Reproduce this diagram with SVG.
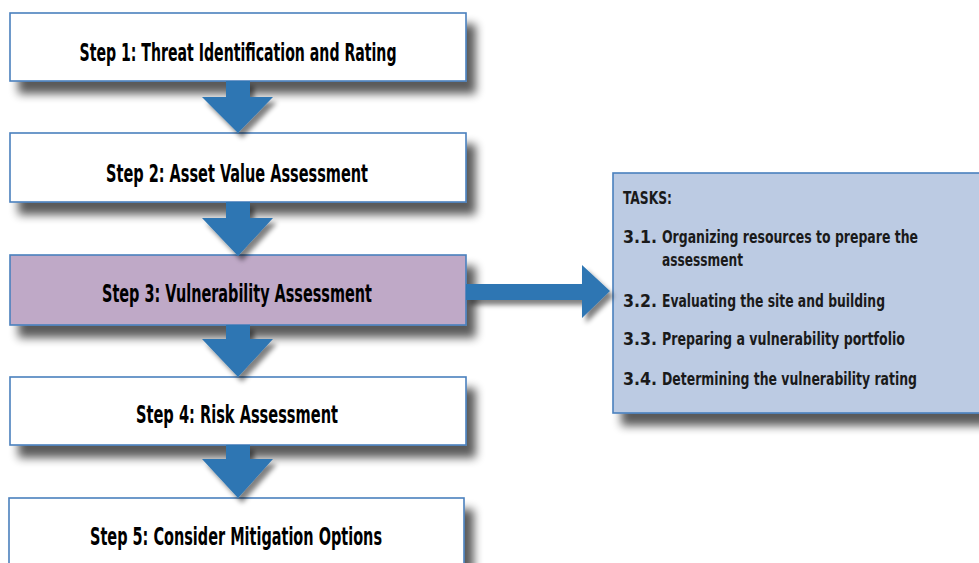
<svg xmlns="http://www.w3.org/2000/svg" width="979" height="563" viewBox="0 0 979 563">
<defs>
<filter id="sh" x="-20%" y="-30%" width="150%" height="190%">
<feGaussianBlur in="SourceAlpha" stdDeviation="5"/>
<feOffset dx="9" dy="12" result="b"/>
<feComponentTransfer in="b" result="c"><feFuncA type="linear" slope="0.65"/></feComponentTransfer>
<feMerge><feMergeNode in="c"/><feMergeNode in="SourceGraphic"/></feMerge>
</filter>
<filter id="ash" x="-30%" y="-30%" width="170%" height="170%">
<feGaussianBlur in="SourceAlpha" stdDeviation="2.5"/>
<feOffset dx="4" dy="5" result="b"/>
<feComponentTransfer in="b" result="c"><feFuncA type="linear" slope="0.5"/></feComponentTransfer>
<feMerge><feMergeNode in="c"/><feMergeNode in="SourceGraphic"/></feMerge>
</filter>
</defs>
<style>
.box{fill:#ffffff;stroke:#4a80bd;stroke-width:1.6;filter:url(#sh)}
.hl{fill:#bfa9c7}
.task{fill:#bccbe3;stroke:#4a80bd;stroke-width:1.6;filter:url(#sh)}
.lbl{font-family:"Liberation Sans Narrow","DejaVu Sans Condensed","Liberation Sans",sans-serif;font-stretch:condensed;font-weight:bold;font-size:24px;fill:#000;text-anchor:middle}
.t{font-family:"Liberation Sans Narrow","DejaVu Sans Condensed","Liberation Sans",sans-serif;font-stretch:condensed;font-weight:bold;font-size:17px;fill:#1a1a1a}
.arr{fill:#2f76b3;filter:url(#ash)}
</style>
<rect width="979" height="563" fill="#ffffff"/>
<g id="step1"><rect class="box" x="10" y="13" width="456" height="68"/><text class="lbl" x="238" y="61" textLength="317" lengthAdjust="spacingAndGlyphs">Step 1: Threat Identification and Rating</text></g>
<g id="step2"><rect class="box" x="10" y="133" width="456" height="69"/><text class="lbl" x="237" y="182" textLength="262" lengthAdjust="spacingAndGlyphs">Step 2:  Asset Value Assessment</text></g>
<g id="step3"><rect class="box hl" x="10" y="255" width="456" height="70"/><text class="lbl" x="237" y="302" textLength="270" lengthAdjust="spacingAndGlyphs">Step 3:  Vulnerability Assessment</text></g>
<g id="step4"><rect class="box" x="10" y="377" width="456" height="68"/><text class="lbl" x="237" y="423" textLength="202" lengthAdjust="spacingAndGlyphs">Step 4:  Risk Assessment</text></g>
<g id="step5"><rect class="box" x="9" y="498" width="455" height="80"/><text class="lbl" x="236" y="545" textLength="292" lengthAdjust="spacingAndGlyphs">Step 5:  Consider Mitigation Options</text></g>
<g id="tasks"><rect class="task" x="613" y="173" width="380" height="240"/>
<text class="t" x="623" y="204" textLength="49" lengthAdjust="spacingAndGlyphs">TASKS:</text>
<text class="t" x="623" y="243" textLength="34" lengthAdjust="spacingAndGlyphs">3.1.</text>
<text class="t" x="662" y="243" textLength="256" lengthAdjust="spacingAndGlyphs">Organizing resources to prepare the</text>
<text class="t" x="662" y="266" textLength="81" lengthAdjust="spacingAndGlyphs">assessment</text>
<text class="t" x="623" y="307" textLength="34" lengthAdjust="spacingAndGlyphs">3.2.</text>
<text class="t" x="662" y="307" textLength="223" lengthAdjust="spacingAndGlyphs">Evaluating the site and building</text>
<text class="t" x="623" y="345" textLength="34" lengthAdjust="spacingAndGlyphs">3.3.</text>
<text class="t" x="662" y="345" textLength="243" lengthAdjust="spacingAndGlyphs">Preparing a vulnerability portfolio</text>
<text class="t" x="623" y="385" textLength="34" lengthAdjust="spacingAndGlyphs">3.4.</text>
<text class="t" x="662" y="385" textLength="255" lengthAdjust="spacingAndGlyphs">Determining the vulnerability rating</text>
</g>
<g id="connectors">
<polygon class="arr" points="226,81 250,81 250,97 273,97 238,133 202,97 226,97"/>
<polygon class="arr" points="226,202 250,202 250,218 273,218 238,256 202,218 226,218"/>
<polygon class="arr" points="226,325 250,325 250,339 273,339 238,377 202,339 226,339"/>
<polygon class="arr" points="226,445 250,445 250,459 273,459 238,498 202,459 226,459"/>
<polygon class="arr" points="466,284 582,284 582,265 610,291 582,318 582,300 466,300"/>
</g>
</svg>
